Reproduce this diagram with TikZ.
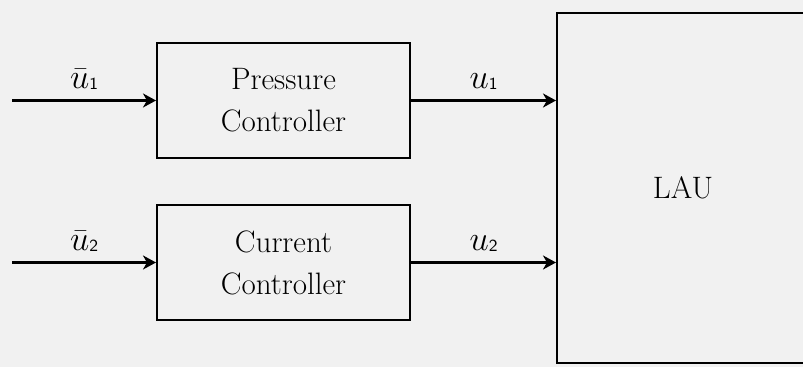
\documentclass[tikz,border=0pt]{standalone}
\usetikzlibrary{arrows.meta}
\definecolor{bgcol}{RGB}{241,241,241}
\tikzset{
  block/.style={draw,line width=1pt,fill=bgcol,minimum width=126.5pt,
    minimum height=57.5pt,align=center,font=\fontsize{15.5}{21}\selectfont},
  sig/.style={line width=1.6pt,-{Stealth[length=6.5pt,width=7pt,inset=2pt]}},
  siglabel/.style={above=2.5pt,inner sep=2pt,font=\fontsize{17}{19}\selectfont},
}
\newcommand{\sigsub}[1]{\raisebox{-0.5pt}{\fontsize{8.5}{10}\selectfont\sffamily #1}}

\begin{document}
\begin{tikzpicture}
        [x=0.5pt,y=-0.5pt]
        \clip (0,0) rectangle (803,367);
        \fill[bgcol] (0,0) rectangle (803,367);

        \node[block] (pc) at (283.5,100.5) {Pressure\\Controller};
        \node[block] (cc) at (283.5,262.5) {Current\\Controller};
        \node[block,minimum width=126pt,minimum height=175pt] (lau) at (683,188) {LAU};

        \coordinate (in1) at (12,100.5);
        \coordinate (in2) at (12,262.5);

        \draw[sig] (in1) -- (in1 -| pc.west) node[midway,siglabel] {$\bar{u}$\sigsub{1}};
        \draw[sig] (in2) -- (in2 -| cc.west) node[midway,siglabel] {$\bar{u}$\sigsub{2}};

        \draw[sig] (pc.east) -- (pc.east -| lau.west) node[midway,siglabel] {$u$\sigsub{1}};
        \draw[sig] (cc.east) -- (cc.east -| lau.west) node[midway,siglabel] {$u$\sigsub{2}};
      \end{tikzpicture}
\end{document}
